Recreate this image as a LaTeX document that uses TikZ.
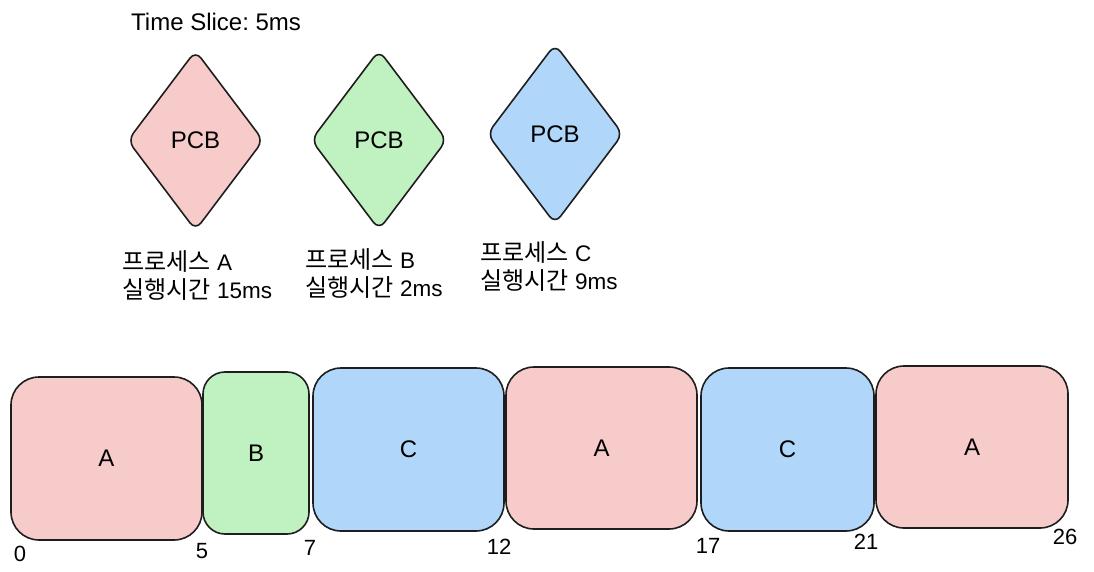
\documentclass[tikz,border=0pt]{standalone}
\usepackage{fontspec}
\setmainfont{Liberation Sans}
\newfontfamily\kr{Noto Sans CJK KR}[Scale=1.07]
\usetikzlibrary{shapes.geometric, positioning}
\frenchspacing
\definecolor{pinkA}{HTML}{F8CBCB}
\definecolor{greenB}{HTML}{C0F1C0}
\definecolor{blueC}{HTML}{B0D7FA}
\definecolor{edge}{HTML}{1E1E1E}
\tikzset{
    pcb/.style={
        draw=edge, line width=1.6pt, diamond, rounded corners=9pt,
        minimum width=136pt, minimum height=180pt, inner sep=0pt,
        font=\fontsize{24}{28}\selectfont
    },
    slot/.style={
        draw=edge, line width=1.6pt, rounded corners=28pt,
        minimum height=163pt, inner sep=0pt,
        font=\fontsize{24}{28}\selectfont
    },
    info/.style={anchor=west, align=left, inner sep=0pt, font=\fontsize{22.5}{28}\selectfont},
    stamp/.style={inner sep=0pt, font=\fontsize{22}{26}\selectfont}
}

\begin{document}
\begin{tikzpicture}[x=1pt, y=-1pt]
    \useasboundingbox (0,0) rectangle (1094,572);
    % title
    \node[anchor=west, inner sep=0pt, font=\fontsize{24}{28}\selectfont] (slice) at (131,22) {Time Slice: 5ms};
    % process control blocks
    \node[pcb, fill=pinkA] (pa) at (195.5,140.5) {PCB};
    \node[pcb, fill=greenB] (pb) at (379,140) {PCB};
    \node[pcb, fill=blueC] (pc) at (555,134) {PCB};
    \node[info] (ia) at (122,275.5) {{\kr 프로세스} A\\{\kr 실행시간} 15ms};
    \node[info] (ib) at (305,273.5) {{\kr 프로세스} B\\{\kr 실행시간} 2ms};
    \node[info] (ic) at (480,266) {{\kr 프로세스} C\\{\kr 실행시간} 9ms};
    % time line
    \node[slot, fill=pinkA, minimum width=191pt] (a1) at (106.5,458.5) {A};
    \node[slot, fill=greenB, minimum width=106pt, minimum height=162pt, rounded corners=22pt] (b1) at (256,453) {B};
    \node[slot, fill=blueC, minimum width=191pt] (c1) at (408.5,449.5) {C};
    \node[slot, fill=pinkA, minimum width=191pt, minimum height=162pt] (a2) at (601.5,448) {A};
    \node[slot, fill=blueC, minimum width=173pt] (c2) at (787.5,449.5) {C};
    \node[slot, fill=pinkA, minimum width=192pt, minimum height=162pt] (a3) at (972,447) {A};
    % ticks
    \node[stamp] (t0) at (20,554) {0};
    \node[stamp] (t5) at (202,551) {5};
    \node[stamp] (t7) at (310,548) {7};
    \node[stamp] (t12) at (499,547) {12};
    \node[stamp] (t17) at (708,546) {17};
    \node[stamp] (t21) at (866,542) {21};
    \node[stamp] (t26) at (1065,537) {26};
\end{tikzpicture}
\end{document}
